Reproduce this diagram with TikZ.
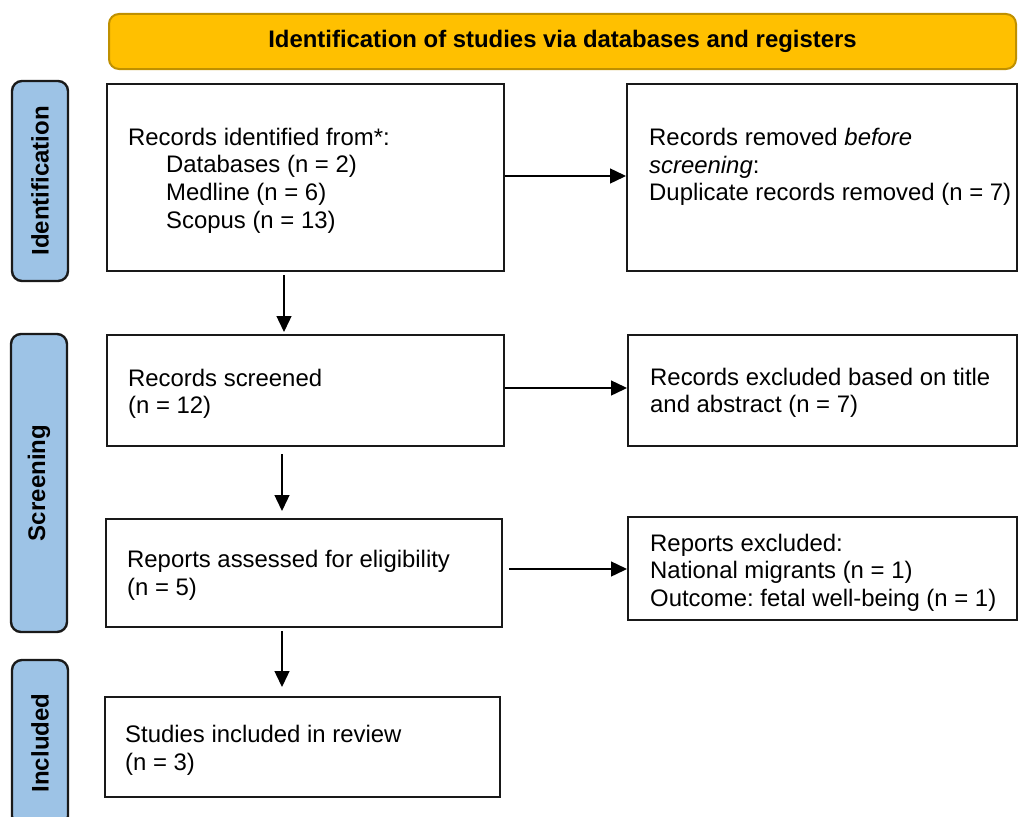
\documentclass[tikz,border=0pt]{standalone}
\usepackage{fontspec}
\setmainfont{Liberation Sans}
\usetikzlibrary{arrows.meta}
\frenchspacing
\definecolor{bannerfill}{HTML}{FFC000}
\definecolor{bannerline}{HTML}{BF9000}
\definecolor{sidefill}{HTML}{9DC3E6}
\definecolor{sideline}{HTML}{1A1A1A}
\tikzset{
  box/.style={draw=black!90, line width=2pt, fill=white, inner sep=0pt},
  txt/.style={anchor=west, align=left, inner sep=0pt, font=\fontsize{23.9}{27.6}\selectfont},
  side/.style={draw=sideline, line width=2.4pt, fill=sidefill, rounded corners=10pt, rotate=90, inner sep=0pt,
    font=\fontsize{24}{27}\selectfont\bfseries},
  banner/.style={draw=bannerline, line width=2pt, fill=bannerfill, rounded corners=10pt, inner sep=0pt,
    font=\fontsize{23.9}{27}\selectfont\bfseries},
  arr/.style={line width=1.4pt, -{Triangle[length=16pt,width=15pt]}}
}
\begin{document}
\begin{tikzpicture}[x=1pt,y=-1pt]
\useasboundingbox (0,0) rectangle (1019,816);

% banner
\node[banner, minimum width=907pt, minimum height=55pt] (ban) at (562.5,41.5) {Identification of studies via databases and registers};

% side labels
\node[side, minimum width=200pt, minimum height=56pt] (s1) at (40,181) {Identification};
\node[side, minimum width=298pt, minimum height=56pt] (s2) at (39,483) {Screening};
\node[side, minimum width=166pt, minimum height=56pt] (s3) at (40,743) {Included};

% boxes
\node[box, minimum width=397pt, minimum height=187pt] (b1) at (305.5,177.5) {};
\node[box, minimum width=390pt, minimum height=187pt] (b2) at (822,177.5) {};
\node[box, minimum width=397pt, minimum height=111pt] (b3) at (305.5,390.5) {};
\node[box, minimum width=389pt, minimum height=111pt] (b4) at (822.5,390.5) {};
\node[box, minimum width=396pt, minimum height=108pt] (b5) at (304,573) {};
\node[box, minimum width=389pt, minimum height=103pt] (b6) at (822.5,568.5) {};
\node[box, minimum width=395pt, minimum height=100pt] (b7) at (302.5,747) {};

% texts
\node[txt] (t1) at (128,180.5) {Records identified from*:\\
  \hspace*{38pt}Databases (n = 2)\\
  \hspace*{38pt}Medline (n = 6)\\
  \hspace*{38pt}Scopus (n = 13)};
\node[txt] (t2) at (649,167) {Records removed \emph{before}\\ \emph{screening}:\\ Duplicate records removed (n = 7)};
\node[txt] (t3) at (128,394) {Records screened\\ (n = 12)};
\node[txt] (t4) at (650,393) {Records excluded based on title\\ and abstract (n = 7)};
\node[txt] (t5) at (127,575.5) {Reports assessed for eligibility\\ (n = 5)};
\node[txt] (t6) at (650,572.5) {Reports excluded:\\ National migrants (n = 1)\\ Outcome: fetal well-being (n = 1)};
\node[txt] (t7) at (125,750.5) {Studies included in review\\ (n = 3)};

% coordinates for vertical arrows
\coordinate (d1a) at (284,275);
\coordinate (d2a) at (282,454);
\coordinate (d3a) at (282,631);

% connectors
\draw[arr] (b1.east |- 0,176) -- (b2.west |- 0,176);
\draw[arr] (b3.east |- 0,388) -- (b4.west |- 0,388);
\draw[arr, shorten <=6pt] (b5.east |- 0,569) -- (b6.west |- 0,569);
\draw[arr, shorten >=2pt] (d1a) -- (d1a |- b3.north);
\draw[arr, shorten >=7pt] (d2a) -- (d2a |- b5.north);
\draw[arr, shorten >=9pt] (d3a) -- (d3a |- b7.north);
\end{tikzpicture}
\end{document}
